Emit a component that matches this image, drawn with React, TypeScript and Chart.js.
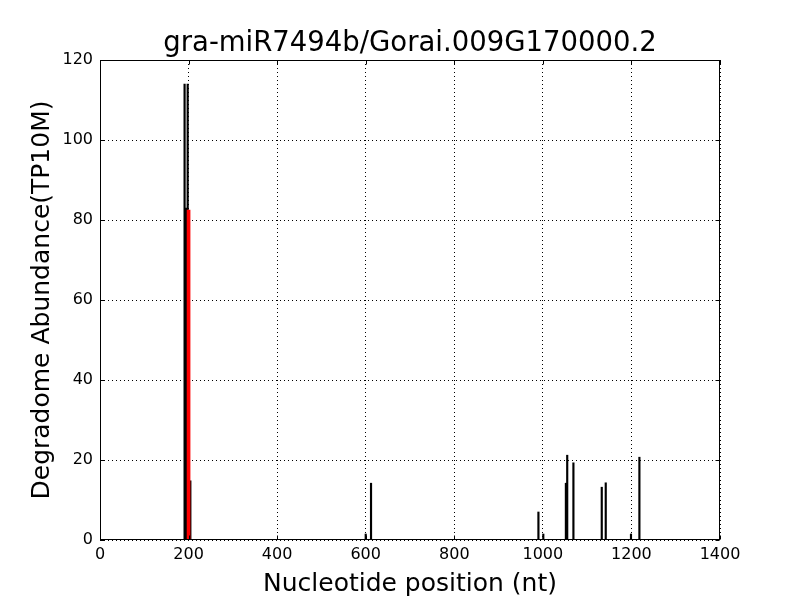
import React, { useEffect, useRef } from "react";
import { Chart, registerables } from "chart.js";

Chart.register(...registerables);

const TITLE = "gra-miR7494b/Gorai.009G170000.2";
const X_LABEL = "Nucleotide position (nt)";
const Y_LABEL = "Degradome Abundance(TP10M)";
const X_TICKS = [0, 200, 400, 600, 800, 1000, 1200, 1400];
const Y_TICKS = [0, 20, 40, 60, 80, 100, 120];

const blackPositions = [191, 194, 198, 204, 600, 612, 990, 1001, 1052, 1055, 1069, 1133, 1142, 1199, 1218];
const blackValues = [114, 83, 114, 14.8, 1.5, 14.2, 7, 1.5, 14.2, 21.2, 19.3, 13.2, 14.3, 1.5, 20.7];
const redPositions = [200];
const redValues = [82.5];

const FONT = "DejaVu Sans";

const framePlugin = {
  id: "frameTicks",
  afterDraw(chart: any) {
    const { ctx, chartArea: a, scales } = chart;
    const L = Math.round(a.left) + 0.5;
    const R = Math.round(a.right) - 0.5;
    const T = Math.round(a.top) + 0.5;
    const B = Math.round(a.bottom) - 0.5;
    ctx.save();
    ctx.strokeStyle = "#000";
    ctx.lineWidth = 1;
    ctx.setLineDash([]);
    ctx.beginPath();
    for (const v of X_TICKS) {
      const px = Math.round(scales.x.getPixelForValue(v)) + 0.5;
      ctx.moveTo(px, B);
      ctx.lineTo(px, B - 4);
      ctx.moveTo(px, T);
      ctx.lineTo(px, T + 4);
    }
    for (const v of Y_TICKS) {
      const py = Math.round(scales.y.getPixelForValue(v)) + 0.5;
      ctx.moveTo(L, py);
      ctx.lineTo(L + 4, py);
      ctx.moveTo(R, py);
      ctx.lineTo(R - 4, py);
    }
    ctx.stroke();
    ctx.strokeRect(L, T, R - L, B - T);
    ctx.restore();
  },
};

export default function App() {
  const ref = useRef<HTMLCanvasElement | null>(null);

  useEffect(() => {
    if (!ref.current) return;
    const chart = new Chart(ref.current, {
      type: "bar",
      data: {
        datasets: [
          {
            label: "target",
            data: redPositions.map((x, i) => ({ x, y: redValues[i] })),
            backgroundColor: "#ff0000",
            borderWidth: 0,
            barThickness: 3,
            grouped: false,
          } as any,
          {
            label: "reads",
            data: blackPositions.map((x, i) => ({ x, y: blackValues[i] })),
            backgroundColor: "#000000",
            borderWidth: 0,
            barThickness: 1.5,
            grouped: false,
          } as any,
        ],
      },
      options: {
        responsive: false,
        animation: false,
        layout: { padding: { left: 0, right: 80, top: 0, bottom: 0 } },
        plugins: {
          legend: { display: false },
          tooltip: { enabled: false },
          title: {
            display: true,
            text: TITLE,
            color: "#000",
            fullSize: false,
            font: { family: FONT, size: 27.5, weight: "normal" },
            padding: { top: 27, bottom: 0 },
          } as any,
        },
        scales: {
          x: {
            type: "linear",
            min: 0,
            max: 1400,
            offset: false,
            afterFit: (s: any) => {
              s.height = 60;
            },
            ticks: {
              stepSize: 200,
              color: "#000",
              padding: 5,
              maxRotation: 0,
              font: { family: FONT, size: 16 },
              callback: (v: any) => String(v),
            },
            grid: {
              color: "#000",
              lineWidth: 1,
              drawTicks: false,
              offset: false,
            },
            border: { display: false, dash: [1, 3] },
            title: {
              display: true,
              text: X_LABEL,
              color: "#000",
              font: { family: FONT, size: 25 },
              padding: { top: 0, bottom: 1 },
            },
          },
          y: {
            type: "linear",
            min: 0,
            max: 120,
            afterFit: (s: any) => {
              s.width = 100;
            },
            ticks: {
              stepSize: 20,
              color: "#000",
              padding: 7,
              font: { family: FONT, size: 16 },
              callback: (v: any) => String(v),
            },
            grid: {
              color: "#000",
              lineWidth: 1,
              drawTicks: false,
            },
            border: { display: false, dash: [1, 3] },
            title: {
              display: true,
              text: Y_LABEL,
              color: "#000",
              font: { family: FONT, size: 25 },
              padding: { top: 27, bottom: 0 },
            },
          },
        },
      },
      plugins: [framePlugin],
    });
    return () => chart.destroy();
  }, []);

  return (
    <div style={{ position: "fixed", left: 0, top: 0, width: 800, height: 600, background: "#fff" }}>
      <canvas ref={ref} width={800} height={600} />
    </div>
  );
}
